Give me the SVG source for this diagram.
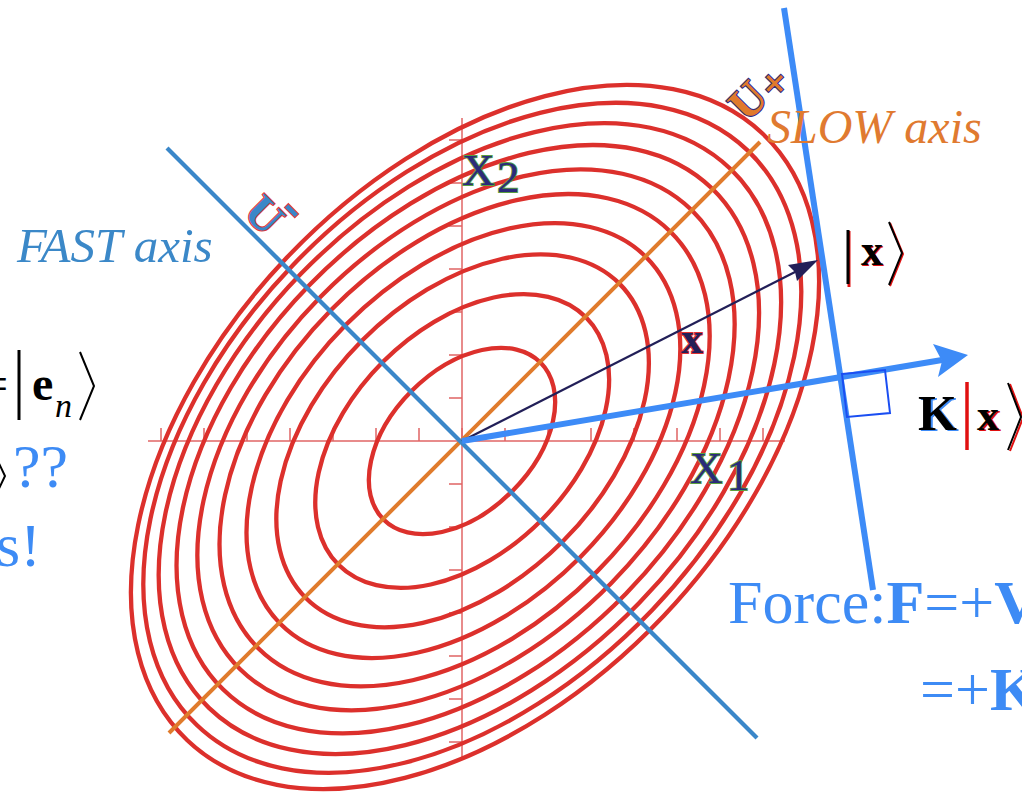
<svg xmlns="http://www.w3.org/2000/svg" width="1022" height="800" viewBox="0 0 1022 800">
<style>
.ell{fill:none;stroke:#dc302c;stroke-width:4.3}
.ax{stroke:#e06464;stroke-width:1.5;fill:none}
.serif{font-family:"Liberation Serif","Times New Roman",serif}
.blk{stroke:#000;fill:none}
.red{stroke:#e01010;fill:none}
.xl{fill:#2b2a7a;stroke:#5aa040;stroke-width:1.8;paint-order:stroke}
</style>
<rect width="1022" height="800" fill="#fff"/>
<g id="axes">
<line class="ax" x1="148" y1="441" x2="785" y2="441"/>
<line class="ax" x1="462" y1="118" x2="462" y2="757"/>
<path class="ax" d="M505 441v-13M548 441v-13M591 441v-13M634 441v-13M677 441v-13M720 441v-13M763 441v-13M419 441v-13M376 441v-13M333 441v-13M290 441v-13M247 441v-13M204 441v-13M161 441v-13M462 441v-13"/>
<path class="ax" d="M462 398h-13M462 355h-13M462 312h-13M462 269h-13M462 226h-13M462 183h-13M462 140h-13M462 484h-13M462 527h-13M462 570h-13M462 613h-13M462 656h-13M462 699h-13M462 742h-13"/>
</g>
<g id="contours">
<ellipse class="ell" rx="111" ry="71" transform="translate(462,441) rotate(-45)"/>
<ellipse class="ell" rx="175" ry="112" transform="translate(462.2,441) rotate(-45)"/>
<ellipse class="ell" rx="222" ry="142" transform="translate(462.6,440.8) rotate(-45.07)"/>
<ellipse class="ell" rx="259" ry="165" transform="translate(463.4,440.6) rotate(-45.17)"/>
<ellipse class="ell" rx="293" ry="186.5" transform="translate(464.6,440.2) rotate(-45.3)"/>
<ellipse class="ell" rx="322" ry="204" transform="translate(466,439.8) rotate(-45.46)"/>
<ellipse class="ell" rx="350" ry="221" transform="translate(467.8,439.2) rotate(-45.67)"/>
<ellipse class="ell" rx="375" ry="236" transform="translate(469.9,438.6) rotate(-45.9)"/>
<ellipse class="ell" rx="398" ry="249" transform="translate(472.3,437.8) rotate(-46.19)"/>
<ellipse class="ell" rx="418" ry="260" transform="translate(475,437) rotate(-46.5)"/>
</g>
<g id="connectors">
<line id="slow-axis" x1="169" y1="733" x2="760" y2="142" stroke="#e07b2c" stroke-width="4"/>
<line id="fast-axis" x1="167" y1="148" x2="757" y2="738" stroke="#3a87c9" stroke-width="4.3"/>
<line id="tangent" x1="784" y1="8" x2="873" y2="590" stroke="#3d8bf7" stroke-width="6"/>
<line id="x-vector" x1="462" y1="441" x2="797" y2="271" stroke="#221f58" stroke-width="2.2"/>
<polygon points="818,260 788,265 795,272 797,281" fill="#221f58"/>
<line id="kx-vector" x1="462" y1="441" x2="942" y2="360" stroke="#3d8bf7" stroke-width="6"/>
<polygon points="968,355 933,344 942,361 938,377" fill="#3d8bf7"/>
<polygon id="right-angle" points="842,374 885,370 890,413 847,417" fill="none" stroke="#1a4ef2" stroke-width="2"/>
</g>
<g id="label-fast"><text class="serif" x="17" y="262" font-size="49" font-style="italic" fill="#3b88c8">FAST axis</text></g>
<g id="label-slow"><text class="serif" x="767" y="143" font-size="48" font-style="italic" fill="#e07a30">SLOW axis</text></g>
<g id="label-uplus" transform="translate(747,123) rotate(-45)">
<text class="serif" x="0" y="0" font-size="46" font-weight="bold" fill="#e07a2c" stroke="#2d2a80" stroke-width="2.2" paint-order="stroke">U<tspan x="35" y="6" font-size="44">+</tspan></text>
</g>
<g id="label-uminus" transform="translate(242,214) rotate(45)">
<text class="serif" x="0" y="0" font-size="46" font-weight="bold" fill="#3a87c8" stroke="#e03a3a" stroke-width="2.2" paint-order="stroke">U<tspan x="24" y="-25" font-size="52">-</tspan></text>
</g>
<g id="label-x2" class="serif xl">
<text x="462" y="185" font-size="45">X</text><text x="497" y="192" font-size="45">2</text>
</g>
<g id="label-x1" class="serif xl">
<text x="690" y="483" font-size="45">X</text><text x="727" y="490" font-size="45">1</text>
</g>
<g id="label-x"><text class="serif" x="692" y="353" font-size="44" font-weight="bold" text-anchor="middle" fill="#221f58" stroke="#e03030" stroke-width="2" paint-order="stroke">x</text></g>
<g id="label-ket-x">
<line x1="849" y1="231" x2="849" y2="287" class="red" stroke-width="3"/>
<line x1="848" y1="230" x2="848" y2="284" class="blk" stroke-width="3"/>
<text class="serif" x="862" y="266" font-size="44" font-weight="bold" fill="#e01010">x</text>
<text class="serif" x="861" y="265" font-size="44" font-weight="bold" fill="#000">x</text>
<polyline points="890,223 903,254 890,286" class="red" stroke-width="2"/>
<polyline points="889,222 902,253 889,285" class="blk" stroke-width="2"/>
</g>
<g id="label-kx">
<text class="serif" x="920" y="431" font-size="50" font-weight="bold" fill="#3d8bf7">K</text>
<text class="serif" x="918" y="430" font-size="50" font-weight="bold" fill="#000">K</text>
<line x1="967" y1="382" x2="967" y2="450" class="red" stroke-width="3.5"/>
<text class="serif" x="979" y="431" font-size="44" font-weight="bold" fill="#e01010">x</text>
<text class="serif" x="977" y="430" font-size="44" font-weight="bold" fill="#000">x</text>
<polyline points="1010,384 1023,418 1010,451" class="red" stroke-width="2"/>
<polyline points="1008,383 1021,417 1008,450" class="blk" stroke-width="2"/>
</g>
<g id="label-en">
<text class="serif" x="-19" y="400" font-size="48" fill="#000">=</text>
<line x1="19" y1="350" x2="19" y2="420" class="blk" stroke-width="3"/>
<text class="serif" x="32" y="400" font-size="48" font-weight="bold" fill="#000">e</text>
<text class="serif" x="55" y="417" font-size="34" font-style="italic" fill="#000">n</text>
<polyline points="80,352 94,386 80,420" class="blk" stroke-width="2"/>
</g>
<g id="label-qq">
<polyline points="-6,453 5,476 -6,499" class="blk" stroke-width="2"/>
<text class="serif" x="13" y="487" font-size="62" fill="#3d8bf5">??</text>
</g>
<g id="label-s"><text class="serif" x="-4" y="566" font-size="62" fill="#3d8bf5">s!</text></g>
<g id="label-force">
<text class="serif" x="728" y="623" font-size="62" fill="#3d8bf5">Force:<tspan font-weight="bold">F</tspan>=+<tspan font-weight="bold">V</tspan></text>
<text class="serif" x="920" y="710" font-size="62" fill="#3d8bf5">=+<tspan font-weight="bold">K</tspan></text>
</g>
</svg>
